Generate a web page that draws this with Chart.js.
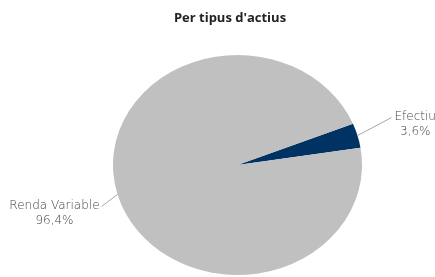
<!DOCTYPE html>
<html>
<head>
<meta charset="utf-8">
<script src="https://cdn.jsdelivr.net/npm/chart.js@4/dist/chart.umd.min.js"></script>
<style>
  html, body { margin: 0; padding: 0; background: #fff; }
  canvas { display: block; }
</style>
</head>
<body>
<canvas id="myChart" width="435" height="277"></canvas>
<script>
// data
var categories = ['Efectiu', 'Renda Variable'];
var values = [3.6, 96.4];
var valueLabels = ['3,6%', '96,4%'];
var colors = ['#003264', '#c0c0c0'];

// the original pie is a bit wider than tall
var stretch = { sx: 1.132, dx: 7.5 };
// where each leader line ends, relative to the slice edge
var leaderOffsets = [[34, -18], [-16, 12]];

var pieLabels = {
    id: 'pieLabels',
    beforeDatasetsDraw: function (chart) {
        var ctx = chart.ctx;
        var arc = chart.getDatasetMeta(0).data[0];
        ctx.save();
        ctx.translate(arc.x + stretch.dx, 0);
        ctx.scale(stretch.sx, 1);
        ctx.translate(-arc.x, 0);
    },
    afterDatasetsDraw: function (chart) {
        var ctx = chart.ctx;
        ctx.restore();
        var meta = chart.getDatasetMeta(0);
        ctx.save();
        ctx.font = '200 12px "DejaVu Sans"';
        ctx.textBaseline = 'middle';
        ctx.textAlign = 'center';
        meta.data.forEach(function (arc, i) {
            var a = (arc.startAngle + arc.endAngle) / 2;
            var ex = arc.x + stretch.dx + arc.outerRadius * stretch.sx * Math.cos(a);
            var ey = arc.y + arc.outerRadius * Math.sin(a);
            var px = ex + leaderOffsets[i][0];
            var py = ey + leaderOffsets[i][1];
            ctx.strokeStyle = '#a6a6a6';
            ctx.lineWidth = 1;
            ctx.beginPath();
            ctx.moveTo(ex, ey);
            ctx.lineTo(px, py);
            ctx.stroke();

            var lines = [categories[i], valueLabels[i]];
            var w = Math.max(ctx.measureText(lines[0]).width, ctx.measureText(lines[1]).width);
            var mid = px > ex ? px + 3 + w / 2 : px - 2 - w / 2;
            ctx.fillStyle = '#444';
            ctx.fillText(lines[0], mid, py - 1);
            ctx.fillText(lines[1], mid, py + 14);
        });
        ctx.restore();
    }
};

var ctx = document.getElementById('myChart').getContext('2d');

var myChart = new Chart(ctx, {
    type: 'pie',
    data: {
        labels: categories,
        datasets: [{
            data: values,
            backgroundColor: colors,
            borderWidth: 0
        }]
    },
    options: {
        responsive: false,
        animation: false,
        rotation: 68,
        layout: {
            padding: { top: 5, left: 25, right: 0, bottom: 2 }
        },
        plugins: {
            legend: { display: false },
            tooltip: { enabled: false },
            title: {
                display: true,
                text: "Per tipus d'actius",
                color: '#222',
                font: { family: '"Open Sans"', size: 13, weight: 'bold', lineHeight: 1.2 },
                padding: { top: 5, bottom: 29.4 }
            }
        }
    },
    plugins: [pieLabels]
});
</script>
</body>
</html>
